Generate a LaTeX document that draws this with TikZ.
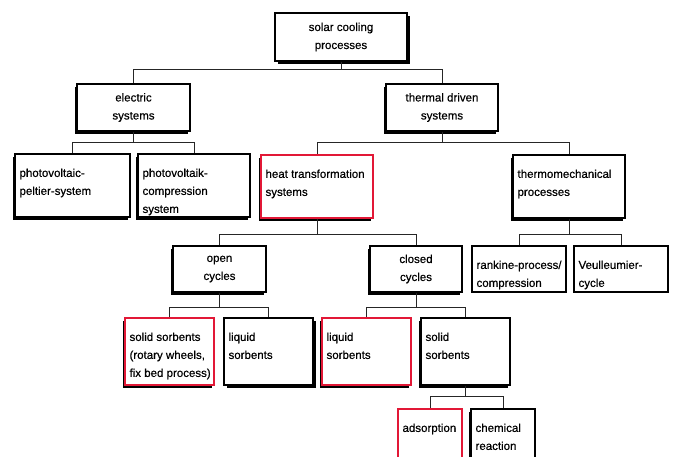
\documentclass[tikz,border=0pt]{standalone}
\usepackage{fontspec}
\setmainfont[FakeBold=0.5]{Liberation Sans}
\usetikzlibrary{shadows}
\definecolor{redb}{RGB}{226,24,54}
\newcommand\fs{\fontsize{11.5}{18}\selectfont}
\newcommand\mkbox[7]{\node[#6, minimum width={#4-#2}, minimum height={#5-#3}] (#1) at ({(#2+#4)/2},{(#3+#5)/2}) {#7};}
\newcommand\lbox[7]{\mkbox{#1}{#2}{#3}{#4}{#5}{#6}{}\node[lt] at ([shift={(5,15)}]#1.north west) {#7};}
\begin{document}
\begin{tikzpicture}[x=1pt,y=-1pt,
  bx/.style={draw=black, line width=1.3pt, fill=white, inner sep=0pt, align=center, font=\fs},
  rbx/.style={bx, draw=redb},
  shl/.style={general shadow={shadow xshift=-2.5pt, shadow yshift=-2.5pt, fill=black}},
  shr/.style={general shadow={shadow xshift=2.5pt, shadow yshift=-2.5pt, fill=black}},
  shs/.style={general shadow={shadow xshift=1.2pt, shadow yshift=-1.2pt, fill=black}},
  ln/.style={draw=black!85, line width=0.8pt},
  lt/.style={anchor=north west, align=left, inner sep=0pt, font=\fs}]
\fill[white] (0,0) rectangle (676,456);
\useasboundingbox (0,0) rectangle (676,456);
% level 0
\mkbox{solar}{275}{13}{407}{61}{bx,shr}{\raisebox{-2pt}{solar cooling}\\\raisebox{-2pt}{processes}}
% level 1
\mkbox{elec}{77}{84}{190}{131}{bx,shl}{\raisebox{-2pt}{electric}\\\raisebox{-2pt}{systems}}
\mkbox{therm}{386}{84}{498}{131}{bx,shl}{\raisebox{-2pt}{thermal driven}\\\raisebox{-2pt}{systems}}
% level 2
\lbox{pelt}{15}{154}{130}{217}{bx,shl}{photovoltaic-\\peltier-system}
\lbox{comp}{138}{154}{250}{217}{bx,shl}{photovoltaik-\\compression\\system}
\lbox{heat}{261}{155}{373}{218}{rbx,shl}{heat transformation\\systems}
\lbox{thermo}{513}{155}{625}{218}{bx,shl}{thermomechanical\\processes}
% level 3
\mkbox{open}{173}{246}{266}{292}{bx,shl}{\raisebox{-2pt}{open}\\\raisebox{-2pt}{cycles}}
\mkbox{closed}{370}{246}{462}{292}{bx,shl}{\raisebox{-2pt}{closed}\\\raisebox{-2pt}{cycles}}
\lbox{rank}{472}{246}{566}{292}{bx,shs}{rankine-process/\\compression}
\lbox{veul}{574}{246}{668}{292}{bx,shs}{Veulleumier-\\cycle}
% level 4
\lbox{solidO}{125}{318}{214}{385}{rbx,shl}{solid sorbents\\(rotary wheels,\\fix bed process)}
\lbox{liqO}{224}{318}{313}{385}{bx,shr}{liquid\\sorbents}
\lbox{liqC}{322}{318}{411}{385}{rbx,shl}{liquid\\sorbents}
\lbox{solidC}{421}{318}{510}{385}{bx,shl}{solid\\sorbents}
% level 5
\lbox{ads}{398}{409}{462}{460}{rbx,shs}{adsorption}
\lbox{chem}{471}{409}{535}{460}{bx,shl}{chemical\\reaction}
% connectors
\draw[ln] (solar.south) -- ++(0,8) -| (elec.north);
\draw[ln] (solar.south) -- ++(0,8) -| (therm.north);
\draw[ln] (elec.south) -- ++(0,11) -| (pelt.north);
\draw[ln] (elec.south) -- ++(0,11) -| (comp.north);
\draw[ln] (therm.south) -- ++(0,11) -| (heat.north);
\draw[ln] (therm.south) -- ++(0,11) -| (thermo.north);
\draw[ln] (heat.south) -- ++(0,16) -| (open.north);
\draw[ln] (heat.south) -- ++(0,16) -| (closed.north);
\draw[ln] (thermo.south) -- ++(0,16) -| (rank.north);
\draw[ln] (thermo.south) -- ++(0,16) -| (veul.north);
\draw[ln] (open.south) -- ++(0,15) -| (solidO.north);
\draw[ln] (open.south) -- ++(0,15) -| (liqO.north);
\draw[ln] (closed.south) -- ++(0,15) -| (liqC.north);
\draw[ln] (closed.south) -- ++(0,15) -| (solidC.north);
\draw[ln] (solidC.south) -- ++(0,11) -| (ads.north);
\draw[ln] (solidC.south) -- ++(0,11) -| (chem.north);
\end{tikzpicture}
\end{document}
